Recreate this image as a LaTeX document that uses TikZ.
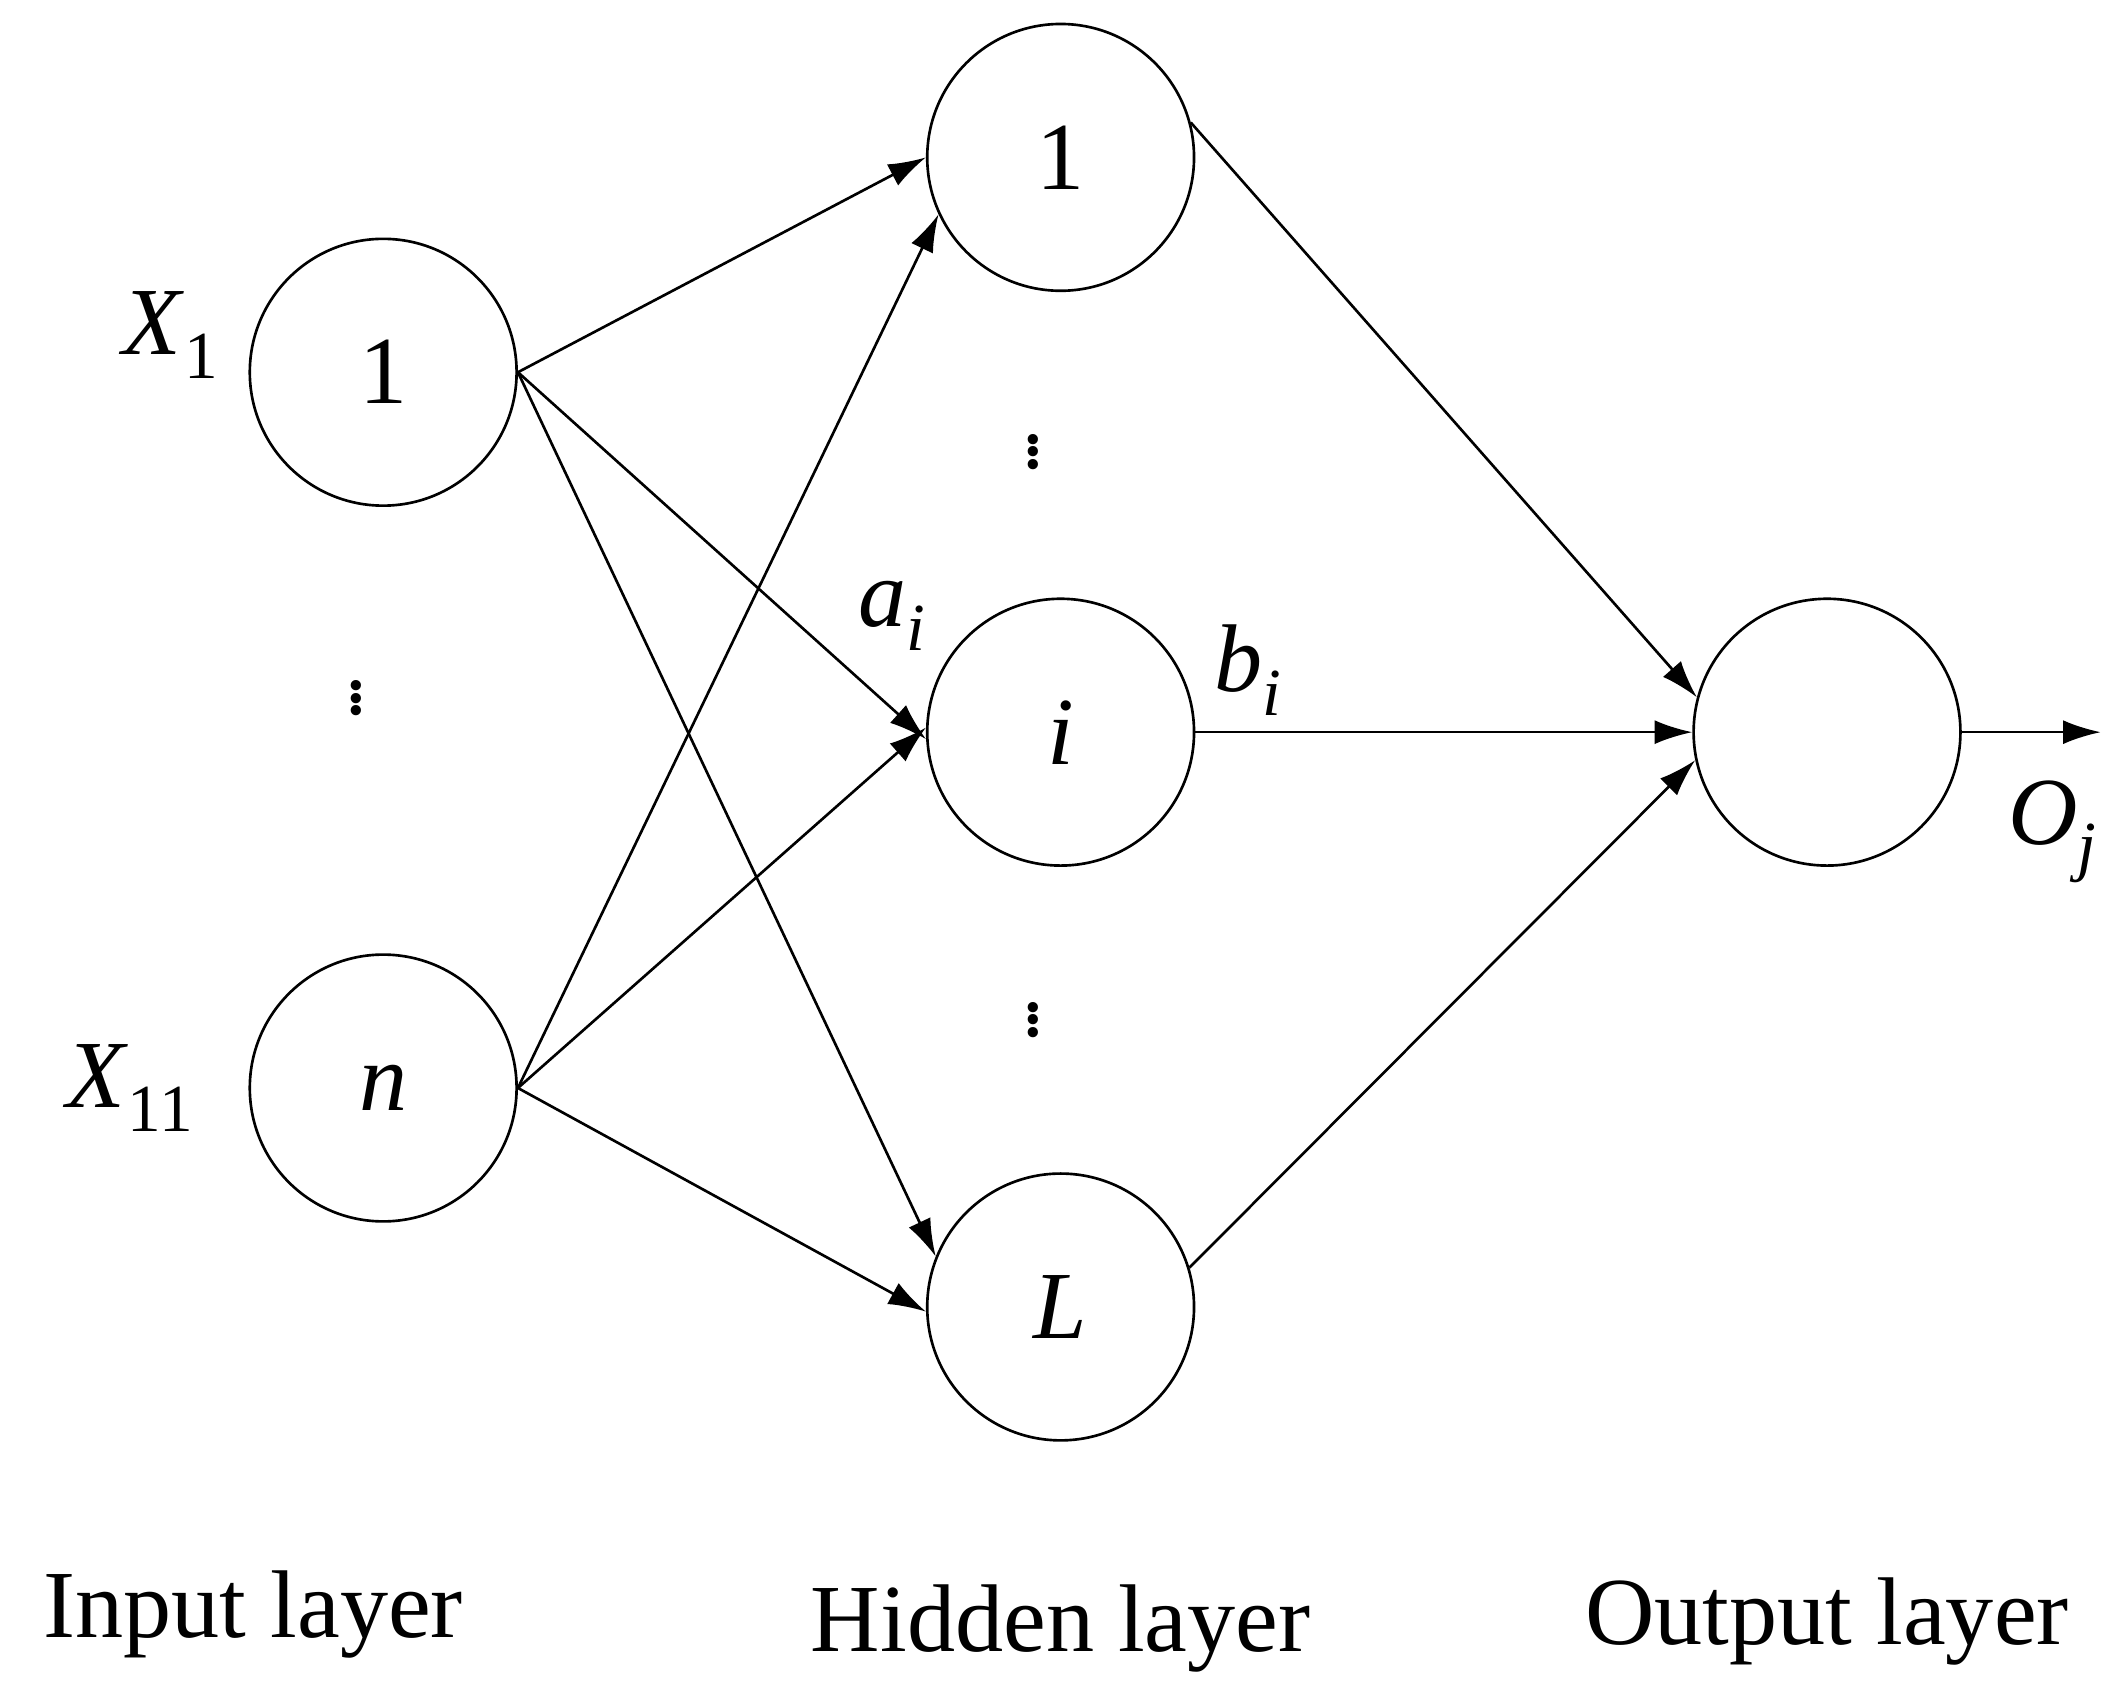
\documentclass[tikz,border=0pt]{standalone}
\usepackage{fontspec}
\setmainfont{Liberation Serif}
\usetikzlibrary{arrows.meta}
\begin{document}
\begin{tikzpicture}[x=0.02cm,y=-0.02cm,
  neuron/.style={circle,draw,line width=1.1pt,minimum size=3.9cm,inner sep=0pt,font=\fontsize{40}{48}\selectfont},
  lbl/.style={font=\fontsize{40}{48}\selectfont,inner sep=0pt},
  dots/.style={font=\fontsize{36}{40}\selectfont,inner sep=0pt},
  conn/.style={line width=1.1pt,-{Latex[length=0.55cm,width=0.35cm]}}]
\useasboundingbox (0,0) rectangle (1552,1229);
\node[neuron] (i1) at (280,272) {1};
\node[neuron] (in) at (280,795) {\textit{n}};
\node[neuron] (h1) at (775,115) {1};
\node[neuron] (hi) at (775,535) {\textit{i}};
\node[neuron] (hL) at (775,955) {\textit{L}};
\node[neuron] (o) at (1335,535) {};
\node[dots] (d1) at (260,505) {$\vdots$};
\node[dots] (d2) at (755,325) {$\vdots$};
\node[dots] (d3) at (755,740) {$\vdots$};
\node[lbl] (x1) at (125,245) {\textit{X}\textsubscript{1}};
\node[lbl] (x11) at (95,795) {\textit{X}\textsubscript{11}};
\node[lbl] (ai) at (652,450) {\textit{a\textsubscript{i}}};
\node[lbl] (bi) at (912,490) {\textit{b\textsubscript{i}}};
\node[lbl] (oj) at (1500,608) {\textit{O\textsubscript{j}}};
\coordinate (out) at (1535,535);
\node[lbl] (l1) at (185,1180) {Input layer};
\node[lbl] (l2) at (775,1190) {Hidden layer};
\node[lbl] (l3) at (1335,1185) {Output layer};
\draw[conn] (i1.east) -- (h1.180);
\draw[conn] (i1.east) -- (hi.183);
\draw[conn] (i1.east) -- (hL.158);
\draw[conn] (in.east) -- (h1.205);
\draw[conn] (in.east) -- (hi.178);
\draw[conn] (in.east) -- (hL.182);
\draw[conn] (h1.15) -- (o.165);
\draw[conn] (hi.east) -- (o.west);
\draw[conn] (hL.17) -- (o.192);
\draw[conn] (o.east) -- (out);
\end{tikzpicture}
\end{document}
